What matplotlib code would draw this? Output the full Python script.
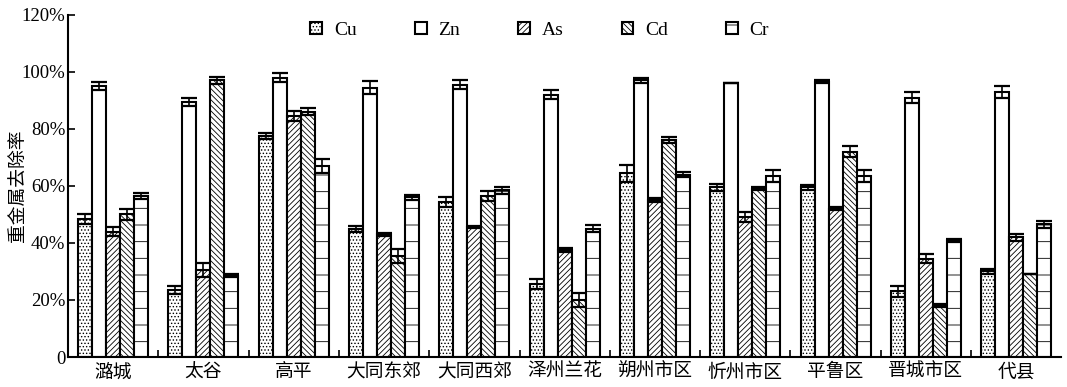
import numpy as np
import matplotlib
matplotlib.use('Agg')
import matplotlib.pyplot as plt

plt.rcParams['font.family'] = ['Liberation Serif', 'Noto Sans CJK SC', 'DejaVu Sans']
plt.rcParams['hatch.linewidth'] = 0.6

# 数据
sites = ['潞城', '太谷', '高平', '大同东郊', '大同西郊', '泽州兰花',
         '朔州市区', '忻州市区', '平鲁区', '晋城市区', '代县']
metals = ['Cu', 'Zn', 'As', 'Cd', 'Cr']

cu = [48.5, 23.5, 77.5, 45.0, 54.5, 25.5, 64.5, 59.5, 59.5, 23.0, 30.0]
zn = [95.0, 89.5, 98.0, 94.5, 95.5, 92.0, 97.0, 96.0, 96.5, 91.0, 93.0]
as_ = [44.0, 30.5, 84.5, 43.0, 45.5, 37.5, 55.0, 49.0, 52.0, 34.5, 42.0]
cd = [50.0, 97.0, 86.0, 35.5, 56.5, 20.0, 76.0, 59.0, 72.0, 18.0, 29.0]
cr = [56.5, 28.5, 67.0, 56.0, 58.5, 45.0, 64.0, 63.5, 63.5, 41.0, 46.5]

cu_err = [1.8, 1.5, 1.0, 1.0, 1.8, 1.8, 3.0, 1.2, 0.8, 1.8, 0.8]
zn_err = [1.5, 1.5, 1.5, 2.2, 1.5, 1.5, 1.0, 0.0, 0.5, 1.8, 2.0]
as_err = [1.5, 2.5, 1.8, 0.5, 0.3, 0.8, 0.8, 1.8, 0.5, 1.5, 1.2]
cd_err = [1.8, 1.2, 1.2, 2.5, 1.8, 2.5, 1.0, 0.5, 2.0, 0.5, 0.0]
cr_err = [1.2, 0.5, 2.5, 1.0, 1.2, 1.2, 0.8, 2.0, 2.0, 0.5, 1.2]

values = [cu, zn, as_, cd, cr]
errors = [cu_err, zn_err, as_err, cd_err, cr_err]
hatches = ['.....', '', '//////', '\\\\\\\\\\\\', '-']

fig = plt.figure(figsize=(10.67, 3.87), dpi=100)
ax = fig.add_axes([0.0637, 0.0775, 0.931, 0.884])

x = np.arange(len(sites))
w = 0.155
for i, (vals, errs) in enumerate(zip(values, errors)):
    pos = x + (i - 2) * w
    ax.bar(pos, vals, width=w, color='white', edgecolor='black',
           linewidth=1.5, hatch=hatches[i], label=metals[i])
    ax.errorbar(pos, vals, yerr=errs, fmt='none', ecolor='black',
                elinewidth=1.2, capsize=6, capthick=1.6)

ax.set_xlim(-0.5, len(sites) - 0.5)
ax.set_ylim(0, 120)
ax.set_yticks([0, 20, 40, 60, 80, 100, 120])
ax.set_yticklabels(['0', '20%', '40%', '60%', '80%', '100%', '120%'], fontsize=13.5)
ax.set_xticks(x)
ax.set_xticklabels(sites, fontsize=13.5)
ax.tick_params(axis='x', length=0, pad=5)
ax.set_xticks(np.arange(0.5, len(sites) - 0.5, 1), minor=True)
ax.tick_params(axis='x', which='minor', direction='in', length=5, width=1.2)
ax.tick_params(axis='y', direction='in', length=5, width=1.2, pad=2)
ax.set_ylabel('重金属去除率', fontsize=13.5)
ax.yaxis.set_label_coords(-0.040, 0.5)

ax.spines['top'].set_visible(False)
ax.spines['right'].set_visible(False)
ax.spines['left'].set_linewidth(1.5)
ax.spines['bottom'].set_linewidth(1.5)

ax.legend(loc='upper center', bbox_to_anchor=(0.475, 1.03), ncol=5, frameon=False,
          fontsize=14, handlelength=0.6, handleheight=0.6, columnspacing=3.0,
          handletextpad=0.6)

fig.savefig('out.png', dpi=100)
